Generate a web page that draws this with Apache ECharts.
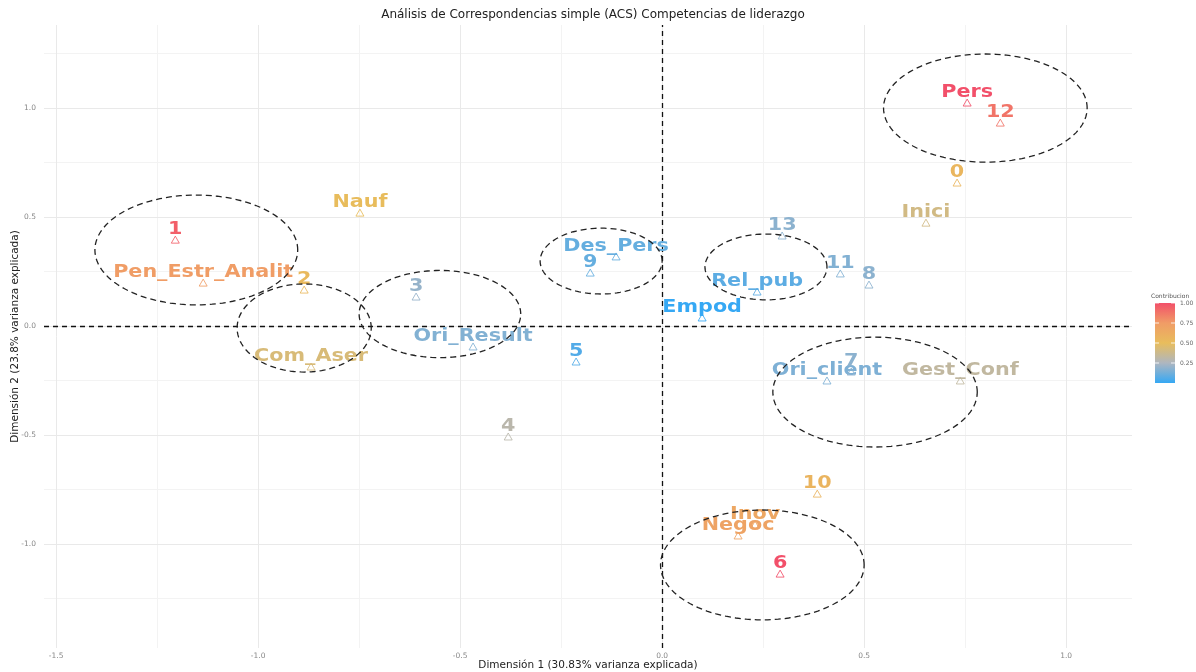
<!DOCTYPE html>
<html>
<head>
<meta charset="utf-8">
<title>ACS Competencias de liderazgo</title>
<script src="https://cdn.jsdelivr.net/npm/echarts@6/dist/echarts.min.js"></script>
<style>
  html, body { margin: 0; padding: 0; background: #ffffff; }
  #chart { width: 1196px; height: 672px; }
</style>
</head>
<body>
<div id="chart"></div>
<script>
// Category labels (row and column points of the correspondence analysis)
const labels = [
  '1', 'Pen_Estr_Analit', '2', 'Nauf', 'Com_Aser', '3', 'Ori_Result', '4', '5',
  '9', 'Des_Pers', 'Empod', '13', 'Rel_pub', '11', '8', 'Ori_client', '7',
  'Gest_Conf', '10', 'Inov', 'Negoc', '6', 'Pers', '12', '0', 'Inici'
];
// Coordinates on dimension 1
const dim1 = [
  -1.205, -1.136, -0.886, -0.748, -0.869, -0.609, -0.468, -0.381, -0.213,
  -0.178, -0.114, 0.099, 0.297, 0.235, 0.441, 0.512, 0.408, 0.468,
  0.738, 0.384, 0.230, 0.188, 0.292, 0.755, 0.837, 0.730, 0.653
];
// Coordinates on dimension 2
const dim2 = [
  0.394, 0.197, 0.165, 0.518, -0.188, 0.133, -0.096, -0.509, -0.165,
  0.243, 0.317, 0.037, 0.413, 0.156, 0.239, 0.188, -0.252, -0.211,
  -0.252, -0.771, -0.913, -0.963, -1.138, 1.023, 0.931, 0.656, 0.472
];
// Contribution of each point to the two dimensions (0..1)
const contrib = [
  0.95, 0.74, 0.53, 0.51, 0.43, 0.20, 0.16, 0.30, 0.06,
  0.10, 0.10, 0.00, 0.18, 0.08, 0.16, 0.18, 0.15, 0.18,
  0.33, 0.57, 0.67, 0.70, 1.00, 1.00, 0.88, 0.55, 0.40
];

// Grouping ellipses: centre (dim1, dim2) and radii in axis units
const ellipseCx = [-1.153, -0.886, -0.550, -0.151, 0.257, 0.800, 0.527, 0.248];
const ellipseCy = [0.349, -0.009, 0.055, 0.298, 0.271, 1.000, -0.303, -1.096];
const ellipseRx = [0.251, 0.166, 0.200, 0.151, 0.151, 0.252, 0.253, 0.252];
const ellipseRy = [0.252, 0.202, 0.200, 0.151, 0.151, 0.248, 0.252, 0.252];

// Axis ticks and grid
const xTicks = [-1.5, -1.0, -0.5, 0.0, 0.5, 1.0];
const yTicks = [-1.0, -0.5, 0.0, 0.5, 1.0];
const xMinor = [-1.25, -0.75, -0.25, 0.25, 0.75];
const yMinor = [-1.25, -0.75, -0.25, 0.25, 0.75, 1.25];
const legendTicks = [1.0, 0.75, 0.5, 0.25];
const palette = ['#35A8F4', '#AEB6C0', '#E8BD5C', '#F09C66', '#F2506A'];

const X_MIN = -1.53, X_MAX = 1.163, Y_MIN = -1.477, Y_MAX = 1.381;
const GRID = { left: 44, right: 64, top: 25, bottom: 24, outerBoundsMode: 'none', containLabel: false };
const LEGEND = { left: 1155, top: 303, width: 20, height: 80 };

const pointData = labels.map((name, i) => [dim1[i], dim2[i], contrib[i], name]);
const ellipseData = ellipseCx.map((cx, i) => [cx, ellipseCy[i], ellipseRx[i], ellipseRy[i]]);

const chart = echarts.init(document.getElementById('chart'), null, { renderer: 'canvas' });

function gridLines(values, axisKey, color) {
  return values.map(v => ({ [axisKey]: v, lineStyle: { color: color, width: 1, type: 'solid' } }));
}

const fontFamily = 'DejaVu Sans, Liberation Sans, sans-serif';
const STRETCH = 1.15;

// Colour bar for the contribution scale
const legendGraphics = [
  {
    type: 'rect',
    shape: { x: LEGEND.left, y: LEGEND.top, width: LEGEND.width, height: LEGEND.height },
    style: {
      fill: new echarts.graphic.LinearGradient(0, 1, 0, 0,
        palette.map((c, i) => ({ offset: i / (palette.length - 1), color: c })))
    }
  },
  {
    type: 'text', x: LEGEND.left - 4, y: LEGEND.top - 10,
    style: { text: 'Contribucion', fontSize: 6, fill: '#555', fontFamily }
  }
].concat(legendTicks.map(t => ({
  type: 'text',
  x: LEGEND.left + LEGEND.width + 5,
  y: LEGEND.top + (1 - t) * LEGEND.height,
  style: { text: t.toFixed(2), fontSize: 6, fill: '#666', fontFamily, verticalAlign: 'middle' }
}))).concat(legendTicks.map(t => {
  const y = LEGEND.top + (1 - t) * LEGEND.height;
  return {
    type: 'group',
    children: [
      { type: 'line', shape: { x1: LEGEND.left, y1: y, x2: LEGEND.left + 4, y2: y }, style: { stroke: 'rgba(255,255,255,0.8)', lineWidth: 1 } },
      { type: 'line', shape: { x1: LEGEND.left + LEGEND.width - 4, y1: y, x2: LEGEND.left + LEGEND.width, y2: y }, style: { stroke: 'rgba(255,255,255,0.8)', lineWidth: 1 } }
    ]
  };
}));

const option = {
  backgroundColor: '#ffffff',
  animation: false,
  title: {
    text: 'Análisis de Correspondencias simple (ACS) Competencias de liderazgo',
    left: (GRID.left + 1196 - GRID.right) / 2, top: 4, textAlign: 'center',
    textStyle: { fontSize: 12, fontWeight: 'normal', color: '#222', fontFamily }
  },
  grid: GRID,
  xAxis: {
    type: 'value', min: X_MIN, max: X_MAX,
    name: 'Dimensión 1 (30.83% varianza explicada)',
    nameLocation: 'middle', nameGap: 12, nameMoveOverlap: false,
    nameTextStyle: { fontSize: 10.5, color: '#222', fontFamily, verticalAlign: 'top' },
    axisLine: { show: false }, axisTick: { show: false }, splitLine: { show: false },
    axisLabel: { customValues: xTicks, formatter: v => v.toFixed(1), fontSize: 7.5, color: '#888', margin: 4, fontFamily }
  },
  yAxis: {
    type: 'value', min: Y_MIN, max: Y_MAX,
    name: 'Dimensión 2 (23.8% varianza explicada)',
    nameLocation: 'middle', nameGap: 23, nameRotate: 90, nameMoveOverlap: false,
    nameTextStyle: { fontSize: 10.5, color: '#222', fontFamily },
    axisLine: { show: false }, axisTick: { show: false }, splitLine: { show: false },
    axisLabel: { customValues: yTicks, formatter: v => v.toFixed(1), fontSize: 7.5, color: '#888', margin: 8, fontFamily }
  },
  visualMap: {
    show: false, type: 'continuous', min: 0, max: 1, dimension: 2, seriesIndex: 2,
    inRange: { color: palette }
  },
  graphic: legendGraphics,
  series: [
    {
      // background grid (major and minor lines)
      type: 'scatter', data: [], silent: true, z: 0,
      markLine: {
        silent: true, symbol: 'none', label: { show: false }, animation: false,
        data: []
          .concat(gridLines(xMinor, 'xAxis', '#f3f3f3'))
          .concat(gridLines(yMinor, 'yAxis', '#f3f3f3'))
          .concat(gridLines(xTicks, 'xAxis', '#e9e9e9'))
          .concat(gridLines(yTicks, 'yAxis', '#e9e9e9'))
      }
    },
    {
      // origin reference lines
      type: 'scatter', data: [], silent: true, z: 1,
      markLine: {
        silent: true, symbol: 'none', label: { show: false }, animation: false,
        lineStyle: { color: '#111', width: 1.3, type: [5, 4] },
        data: [{ xAxis: 0 }, { yAxis: 0 }]
      }
    },
    {
      // points: hollow triangle plus bold label in contribution colour
      type: 'custom', z: 5, silent: true,
      data: pointData,
      encode: { x: 0, y: 1 },
      renderItem: function (params, api) {
        const p = api.coord([api.value(0), api.value(1)]);
        const color = api.visual('color');
        const name = labels[params.dataIndex];
        return {
          type: 'group',
          children: [
            {
              type: 'polygon',
              shape: { points: [[p[0] - 4, p[1] + 3], [p[0] + 4, p[1] + 3], [p[0], p[1] - 4]] },
              style: { fill: 'none', stroke: color, lineWidth: 1, opacity: 0.85 }
            },
            {
              type: 'text',
              x: p[0], y: p[1] - 2, scaleX: STRETCH,
              style: {
                text: name, fill: color, align: 'center', verticalAlign: 'bottom',
                font: 'bold 18px ' + fontFamily
              }
            }
          ]
        };
      }
    },
    {
      // dashed ellipses grouping related categories
      type: 'custom', z: 10, silent: true,
      data: ellipseData,
      encode: { x: 0, y: 1 },
      renderItem: function (params, api) {
        const cx = api.value(0), cy = api.value(1), rx = api.value(2), ry = api.value(3);
        const pts = [];
        for (let k = 0; k < 120; k++) {
          const a = (k / 120) * Math.PI * 2;
          pts.push(api.coord([cx + rx * Math.cos(a), cy + ry * Math.sin(a)]));
        }
        return {
          type: 'polygon',
          shape: { points: pts },
          style: { fill: 'none', stroke: '#222', lineWidth: 1.3, lineDash: [6, 4] }
        };
      }
    }
  ]
};

chart.setOption(option);
</script>
</body>
</html>
